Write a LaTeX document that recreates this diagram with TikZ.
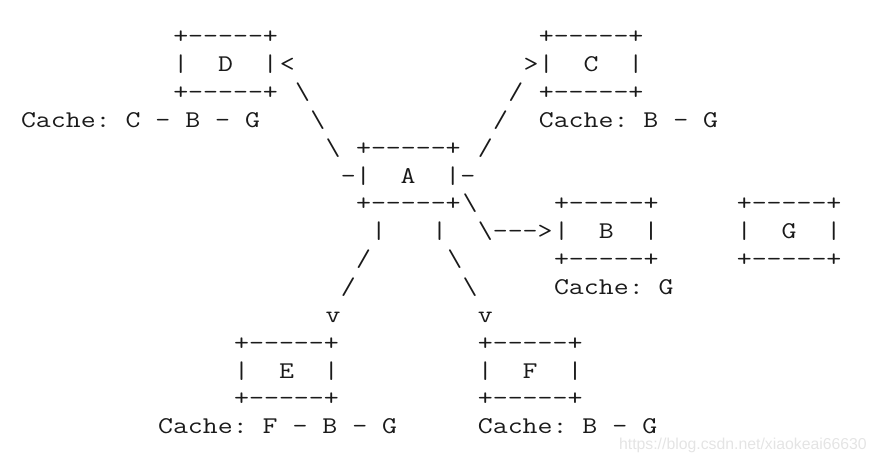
\documentclass[tikz,border=0pt]{standalone}
\usepackage{fontspec}
\usepackage{graphicx}
\usepackage{xcolor}
\newfontfamily\marksans{Liberation Sans}
\definecolor{ink}{HTML}{1A1A1A}
\definecolor{mark}{HTML}{E4E4E4}
\newcommand{\wide}[1]{\scalebox{1.209}[1]{#1}}
\tikzset{
  ascii/.style = {anchor=base west, inner sep=0pt, outer sep=0pt, text=ink,
                  font=\fontsize{24}{28}\selectfont\ttfamily\frenchspacing},
  wmark/.style = {anchor=base east, inner sep=0pt, text=mark, font=\fontsize{15.8}{18}\selectfont\marksans},
}

\begin{document}
\begin{tikzpicture}[x=15.23pt, y=-27.86pt]
  \useasboundingbox (-21pt,43.7pt) rectangle ++(876pt,-461pt);
  % one node per run of characters: column / row / name / text
  \foreach \c/\r/\n/\t in {10/0/Dtop/{+-----+}, 34/0/Ctop/{+-----+},
      10/1/D/{|\ \ D\ \ |}, 17/1/Dtip/{<}, 33/1/Ctip/{>}, 34/1/C/{|\ \ C\ \ |},
      10/2/Dbot/{+-----+}, 18/2/AD1/{\textbackslash}, 32/2/AC1/{/}, 34/2/Cbot/{+-----+},
      0/3/Dcache/{Cache: C - B - G}, 19/3/AD2/{\textbackslash}, 31/3/AC2/{/}, 34/3/Ccache/{Cache: B - G},
      20/4/AD3/{\textbackslash}, 22/4/Atop/{+-----+}, 30/4/AC3/{/},
      21/5/A/{-|\ \ A\ \ |-},
      22/6/Abot/{+-----+}, 29/6/AB1/{\textbackslash}, 35/6/Btop/{+-----+}, 47/6/Gtop/{+-----+},
      23/7/AE1/{|}, 27/7/AF1/{|}, 30/7/AB2/{\textbackslash--->}, 35/7/B/{|\ \ B\ \ |}, 47/7/G/{|\ \ G\ \ |},
      22/8/AE2/{/}, 28/8/AF2/{\textbackslash}, 35/8/Bbot/{+-----+}, 47/8/Gbot/{+-----+},
      21/9/AE3/{/}, 29/9/AF3/{\textbackslash}, 35/9/Bcache/{Cache: G},
      20/10/Etip/{v}, 30/10/Ftip/{v},
      14/11/Etop/{+-----+}, 30/11/Ftop/{+-----+},
      14/12/E/{|\ \ E\ \ |}, 30/12/F/{|\ \ F\ \ |},
      14/13/Ebot/{+-----+}, 30/13/Fbot/{+-----+},
      9/14/Ecache/{Cache: F - B - G}, 30/14/Fcache/{Cache: B - G}} {
    \node[ascii] (\n) at (\c,\r) {\wide{\t}};
  }
  \node[wmark] (csdn) at (846pt,-405.5pt) {https://blog.csdn.net/xiaokeai66630};
\end{tikzpicture}
\end{document}
